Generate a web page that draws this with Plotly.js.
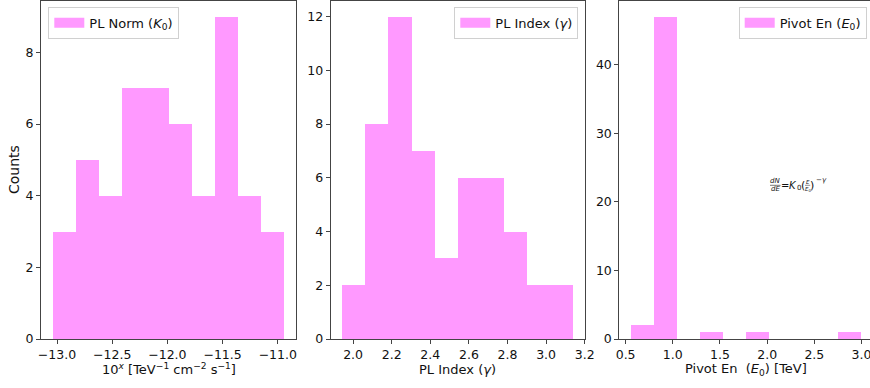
<!DOCTYPE html>
<html>
<head>
<meta charset="utf-8">
<script src="https://cdn.plot.ly/plotly-3.0.1.min.js"></script>
<style>
  html, body { margin: 0; padding: 0; overflow: hidden; background: #fff; }
  #chart { width: 876px; height: 388px; }
</style>
</head>
<body>
<div id="chart"></div>
<script>
// ---- data ----
const normEdges   = [-13.04, -12.83, -12.62, -12.41, -12.20, -11.99, -11.78, -11.57, -11.36, -11.15, -10.94];
const normCounts  = [3, 5, 4, 7, 7, 6, 4, 9, 4, 3];
const indexEdges  = [1.944, 2.064, 2.183, 2.303, 2.423, 2.542, 2.662, 2.781, 2.901, 3.021, 3.140];
const indexCounts = [2, 8, 12, 7, 3, 6, 6, 4, 2, 2];
const pivotEdges  = [0.555, 0.800, 1.044, 1.289, 1.533, 1.778, 2.022, 2.267, 2.511, 2.756, 3.000];
const pivotCounts = [2, 47, 0, 1, 0, 1, 0, 0, 0, 1];

const normTicks  = [-13.0, -12.5, -12.0, -11.5, -11.0];
const indexTicks = [2.0, 2.2, 2.4, 2.6, 2.8, 3.0, 3.2];
const pivotTicks = [0.5, 1.0, 1.5, 2.0, 2.5, 3.0];
const normYTicks  = [0, 2, 4, 6, 8];
const indexYTicks = [0, 2, 4, 6, 8, 10, 12];
const pivotYTicks = [0, 10, 20, 30, 40];

const legendNames = ['PL Norm (<i>K</i><sub>0</sub>)', 'PL Index (<i>γ</i>)', 'Pivot En (<i>E</i><sub>0</sub>)'];

// ---- layout helpers ----
const W = 876, H = 388;
const FONT = 'DejaVu Sans, Verdana, sans-serif';
const PINK = '#ff99ff';
const px = v => v / W;
const py = v => 1 - v / H;

function centers(e) { return e.slice(0, -1).map((v, i) => (v + e[i + 1]) / 2); }
function widths(e)  { return e.slice(0, -1).map((v, i) => e[i + 1] - v); }

const sets = [
  {edges: normEdges,  counts: normCounts},
  {edges: indexEdges, counts: indexCounts},
  {edges: pivotEdges, counts: pivotCounts}
];

const traces = [];
sets.forEach((s, i) => {
  const ax = i === 0 ? '' : String(i + 1);
  traces.push({
    type: 'bar', x: centers(s.edges), y: s.counts, width: widths(s.edges),
    marker: {color: PINK, line: {width: 0}},
    xaxis: 'x' + ax, yaxis: 'y' + ax, showlegend: false, hoverinfo: 'x+y'
  });
  traces.push({
    type: 'scatter', mode: 'lines', x: [null], y: [null],
    line: {color: PINK, width: 10},
    name: legendNames[i], xaxis: 'x' + ax, yaxis: 'y' + ax,
    legend: i === 0 ? 'legend' : 'legend' + (i + 1), showlegend: true
  });
});

const TICKSIZE = 12.5;
const yDom = [1 - 339 / H, 1 - 0.5 / H];
function xax(dom, range, ticks, fmt) {
  return {
    domain: dom, range: range, tickvals: ticks, tickformat: fmt,
    showline: true, mirror: true, linecolor: '#444', linewidth: 1,
    ticks: 'outside', ticklen: 4, tickcolor: '#444', tickwidth: 1,
    showgrid: false, zeroline: false, fixedrange: true,
    tickfont: {family: FONT, size: TICKSIZE, color: '#111'}
  };
}
function yax(anchor, range, ticks) {
  return {
    domain: yDom, range: range, tickvals: ticks, anchor: anchor,
    showline: true, mirror: true, linecolor: '#444', linewidth: 1,
    ticks: 'outside', ticklen: 4, tickcolor: '#444', tickwidth: 1,
    showgrid: false, zeroline: false, fixedrange: true,
    tickfont: {family: FONT, size: TICKSIZE, color: '#111'}
  };
}

function leg(x, xanchor) {
  return {
    x: px(x), y: py(6.7), xanchor: xanchor, yanchor: 'top',
    bgcolor: 'rgba(255,255,255,0.85)', bordercolor: '#d0d0d0', borderwidth: 1,
    font: {family: FONT, size: 13, color: '#111'}, itemwidth: 30
  };
}

const annFont = (s) => ({family: FONT, size: s, color: '#111'});
function ann(text, x, y, size, xanchor, yanchor) {
  return {text: text, x: px(x), y: py(y), xref: 'paper', yref: 'paper',
          showarrow: false, xanchor: xanchor || 'center', yanchor: yanchor || 'middle',
          font: annFont(size), borderpad: 0};
}

const annotations = [
  ann('10<sup><i>x</i></sup> [TeV<sup>−1</sup> cm<sup>−2</sup> s<sup>−1</sup>]', 168.5, 369, 13),
  ann('PL Index (<i>γ</i>)', 457.7, 369, 13),
  ann('Pivot En  (<i>E</i><sub>0</sub>) [TeV]', 746, 369, 13),
  {text: 'Counts', x: px(13.5), y: py(169.5), xref: 'paper', yref: 'paper', showarrow: false,
   textangle: -90, xanchor: 'center', yanchor: 'middle', font: annFont(14)},
  // formula dN/dE = K0 (E/E0)^-gamma
  ann('<i>dN</i>', 775.2, 181.3, 7),
  ann('<i>dE</i>', 775.2, 189.4, 7),
  ann('=', 785.3, 185.6, 10),
  ann('<i>K</i>', 793.2, 185.8, 10),
  ann('0', 798.6, 188.2, 7),
  ann('(', 803.0, 185.6, 11),
  ann('<i>E</i>', 807.5, 181.8, 5.5),
  ann('<i>E</i><sub>0</sub>', 807.7, 189.3, 5.5),
  ann(')', 812.4, 185.6, 11),
  ann('−<i>γ</i>', 815.2, 179.5, 7, 'left')
];

const shapes = [
  {type: 'line', xref: 'paper', yref: 'paper', x0: px(770), x1: px(780.5), y0: py(185.3), y1: py(185.3),
   line: {color: '#222', width: 0.6}},
  {type: 'line', xref: 'paper', yref: 'paper', x0: px(805.0), x1: px(810.2), y0: py(185.3), y1: py(185.3),
   line: {color: '#222', width: 0.5}}
];

const layout = {
  width: W, height: H,
  margin: {l: 0, r: 0, t: 0, b: 0},
  paper_bgcolor: '#fff', plot_bgcolor: '#fff',
  font: {family: FONT, color: '#111'},
  bargap: 0,
  xaxis:  xax([41 / W, 296 / W], [-13.145, -10.835], normTicks, '.1f'),
  xaxis2: xax([330.7 / W, 584.7 / W], [1.884, 3.200], indexTicks, '.1f'),
  xaxis3: xax([619.3 / W, 873 / W], [0.433, 3.122], pivotTicks, '.1f'),
  yaxis:  yax('x', [0, 9.45], normYTicks),
  yaxis2: yax('x2', [0, 12.6], indexYTicks),
  yaxis3: yax('x3', [0, 49.35], pivotYTicks),
  legend:  leg(48.3, 'left'),
  legend2: leg(578.3, 'right'),
  legend3: leg(866.7, 'right'),
  annotations: annotations,
  shapes: shapes
};
layout.xaxis.anchor = 'y';
layout.xaxis2.anchor = 'y2';
layout.xaxis3.anchor = 'y3';

Plotly.newPlot('chart', traces, layout, {displayModeBar: false, staticPlot: true});
</script>
</body>
</html>
